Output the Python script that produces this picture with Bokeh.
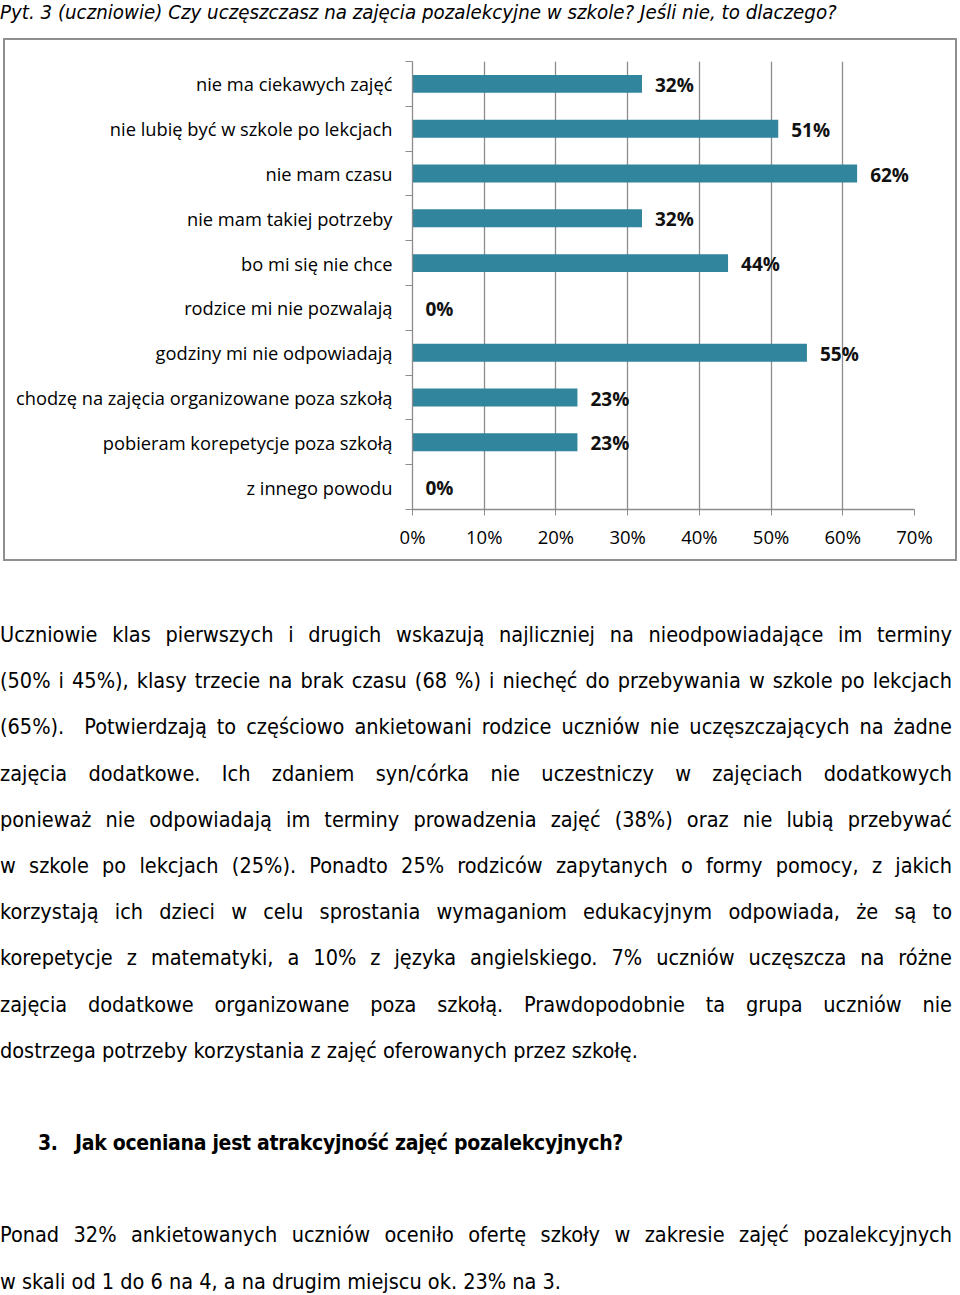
from bokeh.plotting import figure
from bokeh.models import Div, FixedTicker, PrintfTickFormatter, ColumnDataSource, Range1d
from bokeh.layouts import column
from bokeh.embed import file_html
from bokeh.resources import INLINE
from bokeh.core.properties import value

# ---------------- data ----------------
title_text = "Pyt. 3 (uczniowie) Czy uczęszczasz na zajęcia pozalekcyjne w szkole? Jeśli nie, to dlaczego?"
categories = [
    "nie ma ciekawych zajęć",
    "nie lubię być w szkole po lekcjach",
    "nie mam czasu",
    "nie mam takiej potrzeby",
    "bo mi się nie chce",
    "rodzice mi nie pozwalają",
    "godziny mi nie odpowiadają",
    "chodzę na zajęcia organizowane poza szkołą",
    "pobieram korepetycje poza szkołą",
    "z innego powodu",
]
percent_values = [32, 51, 62, 32, 44, 0, 55, 23, 23, 0]
x_tick_values = [0, 10, 20, 30, 40, 50, 60, 70]

paragraph1_lines = [
    "Uczniowie klas pierwszych i drugich wskazują najliczniej na nieodpowiadające im terminy",
    "(50% i 45%), klasy trzecie na brak czasu (68 %) i niechęć do przebywania w szkole po lekcjach",
    "(65%).&nbsp; Potwierdzają to częściowo ankietowani rodzice uczniów nie uczęszczających na żadne",
    "zajęcia dodatkowe. Ich zdaniem syn/córka nie uczestniczy w zajęciach dodatkowych",
    "ponieważ nie odpowiadają im terminy prowadzenia zajęć (38%) oraz nie lubią przebywać",
    "w szkole po lekcjach (25%). Ponadto 25% rodziców zapytanych o formy pomocy, z jakich",
    "korzystają ich dzieci w celu sprostania wymaganiom edukacyjnym odpowiada, że są to",
    "korepetycje z matematyki, a 10% z języka angielskiego. 7% uczniów uczęszcza na różne",
    "zajęcia dodatkowe organizowane poza szkołą. Prawdopodobnie ta grupa uczniów nie",
    "dostrzega potrzeby korzystania z zajęć oferowanych przez szkołę.",
]
heading_number = "3."
heading_text = "Jak oceniana jest atrakcyjność zajęć pozalekcyjnych?"
paragraph2_lines = [
    "Ponad 32% ankietowanych uczniów oceniło ofertę szkoły w zakresie zajęć pozalekcyjnych",
    "w skali od 1 do 6 na 4, a na drugim miejscu ok. 23% na 3.",
]

# ---------------- styles ----------------
BAR = "#31859C"
GRID = "#8C8C8C"
TXT = "#000000"
NARROW = "'DejaVu Sans Condensed', 'Liberation Sans Narrow', sans-serif"

# ---------------- title ----------------
title_div = Div(
    text=f"<div style=\"font-family:{NARROW};font-style:italic;font-size:20.3px;line-height:24px;color:#000;white-space:nowrap\">{title_text}</div>",
    width=960, height=38, margin=0,
)

# ---------------- chart ----------------
n = len(categories)
ypos = [n - i - 0.5 for i in range(n)]
src = ColumnDataSource(dict(
    y=ypos,
    v=percent_values,
    lab=[f"{v}%" for v in percent_values],
    cat=categories,
))

p = figure(
    width=954, height=523,
    x_range=Range1d(0, 70), y_range=Range1d(0, n),
    output_backend="svg", toolbar_location=None,
    min_border_left=407, min_border_right=45, min_border_top=21, min_border_bottom=54,
    margin=(0, 0, 0, 3),
)
p.styles = {"border": "2px solid #8F8F8F"}
p.outline_line_color = None
p.background_fill_color = "white"
p.border_fill_color = "white"

p.hbar(y="y", left=0, right="v", height=0.4, source=src, fill_color=BAR, line_color=None)
p.text(x="v", y="y", text="lab", source=src, x_offset=13, y_offset=1,
       text_baseline="middle", text_align="left",
       text_font=value("Open Sans"), text_font_style="bold", text_font_size="19px",
       text_color="#111111")

# x axis
p.xaxis.ticker = FixedTicker(ticks=x_tick_values)
p.xaxis.formatter = PrintfTickFormatter(format="%d%%")
p.xaxis.axis_line_color = GRID
p.xaxis.axis_line_width = 1.3
p.xaxis.major_tick_line_color = GRID
p.xaxis.major_tick_out = 6
p.xaxis.major_tick_in = 0
p.xaxis.minor_tick_line_color = None
p.xaxis.major_label_standoff = 8
p.xaxis.major_label_text_font = "Open Sans"
p.xaxis.major_label_text_font_size = "18.5px"
p.xaxis.major_label_text_color = TXT

# y axis
p.yaxis.ticker = FixedTicker(ticks=ypos, minor_ticks=list(range(n + 1)))
p.yaxis.major_label_overrides = {y: c for y, c in zip(ypos, categories)}
p.yaxis.axis_line_color = GRID
p.yaxis.axis_line_width = 1.3
p.yaxis.major_tick_line_color = None
p.yaxis.major_tick_out = 7
p.yaxis.major_tick_in = 0
p.yaxis.minor_tick_line_color = GRID
p.yaxis.minor_tick_out = 7
p.yaxis.minor_tick_in = 0
p.yaxis.major_label_standoff = 13
p.yaxis.major_label_text_font = "Open Sans"
p.yaxis.major_label_text_font_size = "18.3px"
p.yaxis.major_label_text_color = TXT

p.xgrid.ticker = FixedTicker(ticks=x_tick_values)
p.xgrid.grid_line_color = GRID
p.xgrid.grid_line_width = 1.3
p.ygrid.grid_line_color = None

# ---------------- body text ----------------
LH = 46.2


def jline(t, last=False):
    align = "left" if last else "justify"
    return (f"<div style=\"text-align:justify;text-align-last:{align};height:{LH}px;"
            f"line-height:{LH}px;white-space:nowrap\">{t}</div>")


parts = []
for i, t in enumerate(paragraph1_lines):
    parts.append(jline(t, last=(i == len(paragraph1_lines) - 1)))
parts.append(f"<div style=\"height:{LH}px\"></div>")
parts.append(
    f"<div style=\"height:{LH}px;line-height:{LH}px;font-weight:bold;white-space:nowrap;"
    f"font-size:21px;letter-spacing:-0.3px\">"
    f"<span style=\"display:inline-block;margin-left:38px;width:37px\">{heading_number}</span>"
    f"{heading_text}</div>")
parts.append(f"<div style=\"height:{LH}px\"></div>")
for i, t in enumerate(paragraph2_lines):
    parts.append(jline(t, last=(i == len(paragraph2_lines) - 1)))

body_html = (f"<div style=\"font-family:{NARROW};font-size:21.5px;color:#000;width:952px;"
             f"padding-top:51px\">" + "".join(parts) + "</div>")
body_div = Div(text=body_html, width=960, height=730, margin=0)

layout = column(title_div, p, body_div, spacing=0, margin=0)

open("out.html", "w").write(file_html(layout, INLINE))
